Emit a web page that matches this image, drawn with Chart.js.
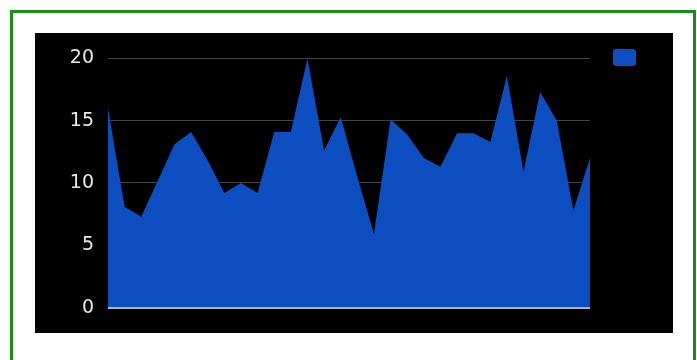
<!DOCTYPE html>
<html>
<head>
<meta charset="utf-8">
<script src="https://cdn.jsdelivr.net/npm/chart.js"></script>
<style>
    body { margin: 0; background: #fff; }
    #frame {
        position: absolute; left: 10px; top: 10px;
        width: 680px; height: 400px;
        border: 3px solid #1a8c1a;
    }
    #box {
        position: absolute; left: 35px; top: 33px;
        width: 638px; height: 300px; background: #000;
    }
</style>
</head>
<body>
<div id="frame"></div>
<div id="box"><canvas id="area-chart" width="638" height="300"></canvas></div>
<script>
const labels = ['1', '2', '3', '4', '5', '6', '7', '8', '9', '10',
    '11', '12', '13', '14', '15', '16', '17', '18', '19', '20',
    '21', '22', '23', '24', '25', '26', '27', '28', '29', '30'];
const values = [16, 8.1, 7.3, 10.2, 13.1, 14.1, 11.8, 9.2, 10, 9.2,
    14.1, 14.1, 20, 12.6, 15.3, 10.5, 5.9, 15.1, 13.9, 12,
    11.3, 14, 14, 13.3, 18.6, 10.9, 17.3, 15, 7.8, 12];
const yTicks = [0, 5, 10, 15, 20];

// legend sits right of the plot with a gap, a bit above the top grid line
const legendPlace = {
    id: 'legendPlace',
    beforeLayout: (chart) => {
        const legend = chart.legend;
        if (legend._fitWrapped) return;
        const fit = legend.fit;
        legend.fit = function () {
            fit.call(this);
            this.width = 83;
        };
        legend._fitWrapped = true;
    },
    afterLayout: (chart) => {
        chart.legend.left = chart.chartArea.right + 23;
        chart.legend.top = 16;
    }
};

const renderChart = () => {
    const ctx = document.getElementById('area-chart');
    new Chart(ctx, {
        type: 'line',
        data: {
            labels: labels,
            datasets: [{
                label: '',
                data: values,
                fill: 'origin',
                backgroundColor: '#0d4fc0',
                borderColor: '#0d4fc0',
                borderWidth: 0,
                pointRadius: 0,
                tension: 0
            }]
        },
        options: {
            responsive: false,
            animation: false,
            layout: {
                padding: { top: 24, bottom: 24, left: 0, right: 0 }
            },
            plugins: {
                tooltip: { enabled: false },
                legend: {
                    position: 'right',
                    align: 'start',
                    labels: {
                        boxWidth: 23,
                        boxHeight: 17,
                        useBorderRadius: true,
                        borderRadius: 3,
                        padding: 0
                    }
                }
            },
            scales: {
                x: { display: false },
                y: {
                    min: 0,
                    max: 20,
                    afterBuildTicks: (scale) => {
                        scale.ticks = yTicks.map(v => ({ value: v }));
                    },
                    afterFit: (scale) => { scale.width = 73; },
                    border: { display: false },
                    grid: {
                        drawTicks: false,
                        color: (c) => c.tick.value === 0 ? '#b4b9c6' : '#444444',
                        lineWidth: (c) => c.tick.value === 0 ? 2 : 1
                    },
                    ticks: {
                        padding: 14,
                        color: '#e8e8e8',
                        font: { family: 'DejaVu Sans', size: 19 }
                    }
                }
            }
        },
        plugins: [legendPlace]
    });
};

renderChart();
</script>
</body>
</html>
